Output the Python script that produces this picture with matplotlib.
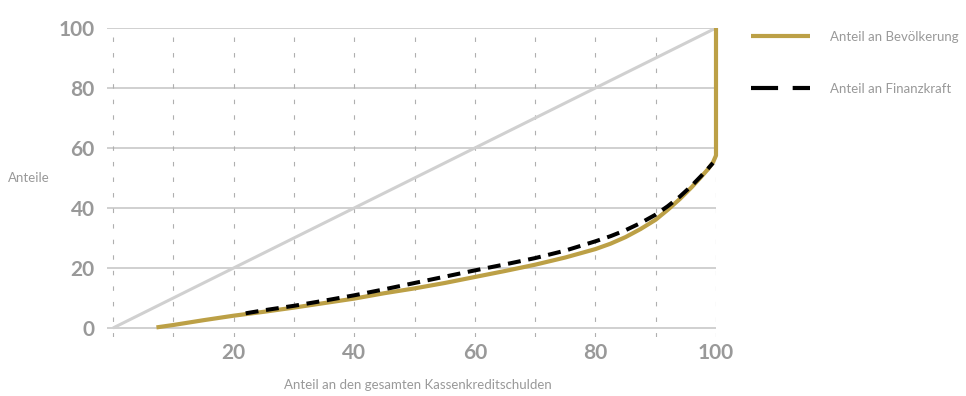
import matplotlib
matplotlib.use("Agg")
import matplotlib.pyplot as plt
from matplotlib.lines import Line2D

plt.rcParams["font.family"] = ["Lato", "DejaVu Sans"]

# Lorenz-type curves: share of total cash-credit debt vs. shares
x_pop = [7.2, 10, 15, 20, 25, 30, 35, 40, 45, 50, 55, 60, 65, 70, 75, 80,
         82.5, 85, 87.5, 90, 92, 94, 96, 97.5, 98.7, 99.5, 100, 100]
y_pop = [0.2, 1.0, 2.6, 4.1, 5.4, 6.8, 8.3, 9.8, 11.6, 13.2, 15.0, 17.0,
         19.0, 21.1, 23.5, 26.3, 28.1, 30.3, 33.0, 36.1, 39.4, 43.0, 47.0,
         50.3, 53.0, 55.2, 57.5, 100]

x_fin = [22, 25, 30, 35, 40, 45, 50, 55, 60, 65, 70, 75, 80, 82.5, 85, 87.5,
         90, 92, 94, 96, 97.5, 98.7, 99.5]
y_fin = [4.9, 5.9, 7.4, 9.1, 10.9, 12.9, 15.0, 17.1, 19.2, 21.2, 23.3, 25.8,
         28.9, 30.6, 32.6, 35.0, 37.8, 40.6, 43.8, 47.5, 50.6, 53.2, 55.0]

diag_x = [0, 100]
diag_y = [0, 100]

x_ticks = [20, 40, 60, 80, 100]
y_ticks = [0, 20, 40, 60, 80, 100]
x_grid = list(range(0, 101, 10))

labels = ["Anteil an Bevölkerung", "Anteil an Finanzkraft"]

gold = "#BCA046"
grey_txt = "#999999"

fig = plt.figure(figsize=(9.66, 3.96), dpi=100)
ax = fig.add_axes([107 / 966, 1 - 337 / 396, 609 / 966, 309 / 396])
ax.set_xlim(-1, 100)
ax.set_ylim(-3, 100)

# grid
ax.hlines(y_ticks, -1, 100, color="#C4C4C4", lw=1.1, zorder=1)
ax.vlines(x_grid, -3, 100, color="#AFAFAF", lw=0.8,
          linestyles=(0, (4, 10)), zorder=1)

ax.plot(diag_x, diag_y, color="#D0D0D0", lw=2.2, zorder=2,
        solid_capstyle="butt")
ax.plot(x_pop, y_pop, color=gold, lw=3.0, zorder=3, clip_on=False,
        solid_capstyle="butt", solid_joinstyle="round")
ax.plot(x_fin, y_fin, color="black", lw=2.9, zorder=4,
        linestyle=(0, (3.2, 1.9)), dash_capstyle="butt")

for s in ax.spines.values():
    s.set_visible(False)
ax.tick_params(length=0)
ax.set_xticks(x_ticks)
ax.set_yticks(y_ticks)
ax.set_xticklabels([str(v) for v in x_ticks], fontsize=15, fontweight="bold",
                   color=grey_txt)
ax.set_yticklabels([str(v) for v in y_ticks], fontsize=15, fontweight="bold",
                   color=grey_txt)
ax.tick_params(axis="x", pad=4)
ax.tick_params(axis="y", pad=9)

fig.text(8 / 966, 1 - 178 / 396, "Anteile", fontsize=9.5, color=grey_txt,
         va="center", ha="left")
fig.text(418 / 966, 1 - 385 / 396, "Anteil an den gesamten Kassenkreditschulden",
         fontsize=9.5, color=grey_txt, va="center", ha="center")

handles = [Line2D([], [], color=gold, lw=3.0, solid_capstyle="butt"),
           Line2D([], [], color="black", lw=3.0, linestyle=(0, (6.5, 3.5)),
                  dash_capstyle="butt")]
leg = fig.legend(handles, labels, loc="upper left",
                 bbox_to_anchor=(751 / 966, 1 - 31 / 396),
                 frameon=False, fontsize=9.5, handlelength=4.5,
                 handletextpad=1.45, labelspacing=3.0, borderpad=0,
                 borderaxespad=0)
for t in leg.get_texts():
    t.set_color(grey_txt)

fig.savefig("out.png", dpi=100)
